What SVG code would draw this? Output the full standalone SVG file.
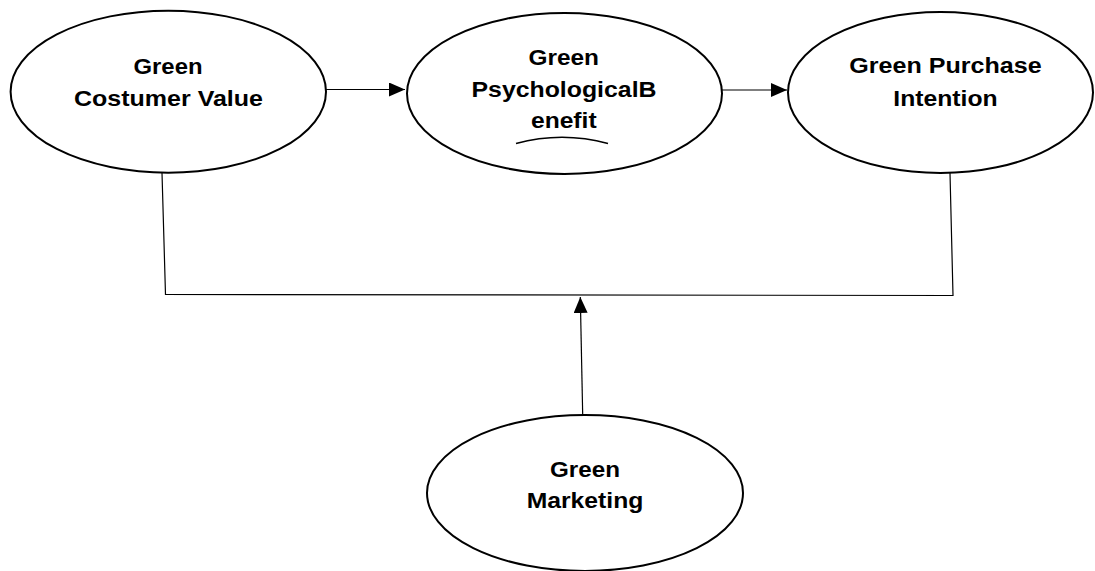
<svg xmlns="http://www.w3.org/2000/svg" width="1095" height="571" viewBox="0 0 1095 571">
<style>
.node ellipse{fill:#fff;stroke:#000;stroke-width:2}
.lbl{font-family:"Liberation Sans",Arial,sans-serif;font-weight:bold;font-size:22px;fill:#000;text-anchor:middle}
.conn{fill:none;stroke:#000;stroke-width:1.2}
</style>
<defs>
<marker id="ah" markerUnits="userSpaceOnUse" viewBox="0 0 16 14" refX="16" refY="7" markerWidth="16" markerHeight="14" orient="auto">
<path d="M0,0 L16,7 L0,14 z" fill="#000"/>
</marker>
</defs>
<rect width="1095" height="571" fill="#fff"/>
<g id="connectors">
<line class="conn" x1="326" y1="89.5" x2="405" y2="89.5" marker-end="url(#ah)"/>
<line class="conn" x1="722" y1="90" x2="787" y2="90" marker-end="url(#ah)"/>
<polyline class="conn" points="162,173 165.5,294.5 953,295.5 950,173"/>
<line class="conn" x1="582.7" y1="415" x2="580.3" y2="297" marker-end="url(#ah)"/>
</g>
<g id="node-costumer-value" class="node">
<ellipse cx="168.3" cy="91.7" rx="157.7" ry="81"/>
<text class="lbl" x="168" y="74" textLength="69" lengthAdjust="spacingAndGlyphs">Green</text>
<text class="lbl" x="168.5" y="106" textLength="189" lengthAdjust="spacingAndGlyphs">Costumer Value</text>
</g>
<g id="node-psychological-benefit" class="node">
<ellipse cx="564.5" cy="93.5" rx="157.5" ry="80.5"/>
<text class="lbl" x="563.7" y="65" textLength="70.5" lengthAdjust="spacingAndGlyphs">Green</text>
<text class="lbl" x="564" y="97.3" textLength="185" lengthAdjust="spacingAndGlyphs">PsychologicalB</text>
<text class="lbl" x="563.8" y="127.5" textLength="65.7" lengthAdjust="spacingAndGlyphs">enefit</text>
<path d="M516,143.5 Q562,131 608,143.5" fill="none" stroke="#000" stroke-width="1.5"/>
</g>
<g id="node-purchase-intention" class="node">
<ellipse cx="940.5" cy="92.5" rx="152.5" ry="80.5"/>
<text class="lbl" x="945.5" y="73.3" textLength="192.3" lengthAdjust="spacingAndGlyphs">Green Purchase</text>
<text class="lbl" x="945.5" y="106" textLength="104.3" lengthAdjust="spacingAndGlyphs">Intention</text>
</g>
<g id="node-green-marketing" class="node">
<ellipse cx="585" cy="493" rx="158" ry="78"/>
<text class="lbl" x="585" y="476.7" textLength="70" lengthAdjust="spacingAndGlyphs">Green</text>
<text class="lbl" x="585" y="508.3" textLength="116.7" lengthAdjust="spacingAndGlyphs">Marketing</text>
</g>
</svg>
